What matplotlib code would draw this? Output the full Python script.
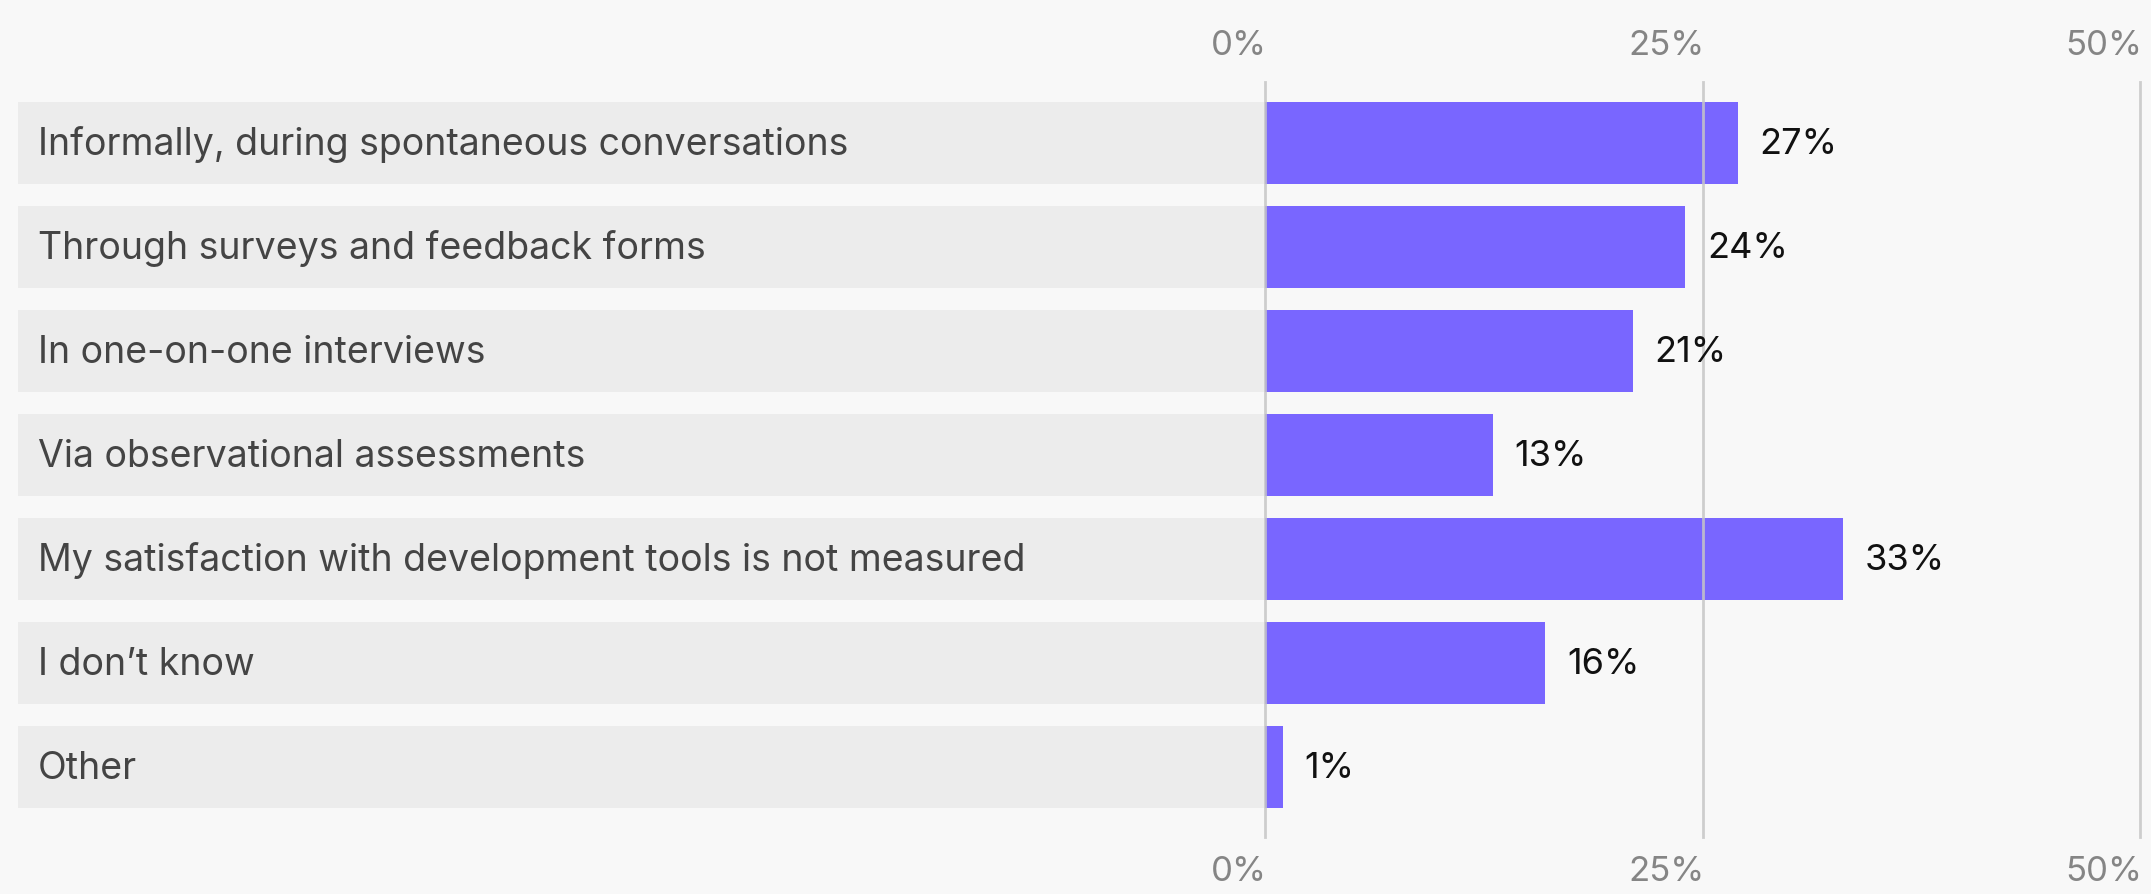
import matplotlib
matplotlib.use("Agg")
import matplotlib.pyplot as plt

categories = [
    "Informally, during spontaneous conversations",
    "Through surveys and feedback forms",
    "In one-on-one interviews",
    "Via observational assessments",
    "My satisfaction with development tools is not measured",
    "I don\u2019t know",
    "Other",
]
shares = [27, 24, 21, 13, 33, 16, 1]
ticks = [0, 25, 50]

BG = "#f8f8f8"
BAR = "#7966ff"
ROW_BG = "#ececec"
GRID = "#c6c6c6"
FONT = "Inter"

W, H = 2151, 894
px_per_pct = 17.5
x0_px = 1265
row0_px, pitch_px = 142.75, 104

fig = plt.figure(figsize=(W / 100, H / 100), dpi=100, facecolor=BG)
ax = fig.add_axes([0, 0, 1, 1])
ax.set_facecolor(BG)
ax.set_xlim(-x0_px / px_per_pct, (W - x0_px) / px_per_pct)
ax.set_ylim((H - row0_px) / pitch_px, -row0_px / pitch_px)
ax.axis("off")

rows = list(range(len(categories)))
left_edge = (18 - x0_px) / px_per_pct
text_x = (38 - x0_px) / px_per_pct
dy = 2 / pitch_px  # nudge text down a couple of pixels

# grey label strips behind each category
ax.barh(rows, [-left_edge] * len(rows), left=left_edge, height=0.79,
        color=ROW_BG, zorder=1)
ax.barh(rows, shares, height=0.79, color=BAR, zorder=2)

grid_top = (82 - row0_px) / pitch_px
grid_bot = (837 - row0_px) / pitch_px
for t in ticks:
    ax.plot([t, t], [grid_top, grid_bot], color=GRID, lw=2, zorder=3, alpha=0.85)
    for ty in [(44 - row0_px) / pitch_px, (870 - row0_px) / pitch_px]:
        ax.text(t + 0.1, ty + dy, f"{t}%", ha="right", va="center", fontsize=25,
                color="#858585", family=FONT)

for i, (cat, v) in enumerate(zip(categories, shares)):
    ax.text(text_x, i + dy, cat, ha="left", va="center", fontsize=27,
            color="#444444", family=FONT)
    ax.text(v + 1.25, i + dy, f"{v}%", ha="left", va="center", fontsize=26,
            color="#111111", family=FONT)

fig.savefig("out.png", dpi=100, facecolor=BG)
